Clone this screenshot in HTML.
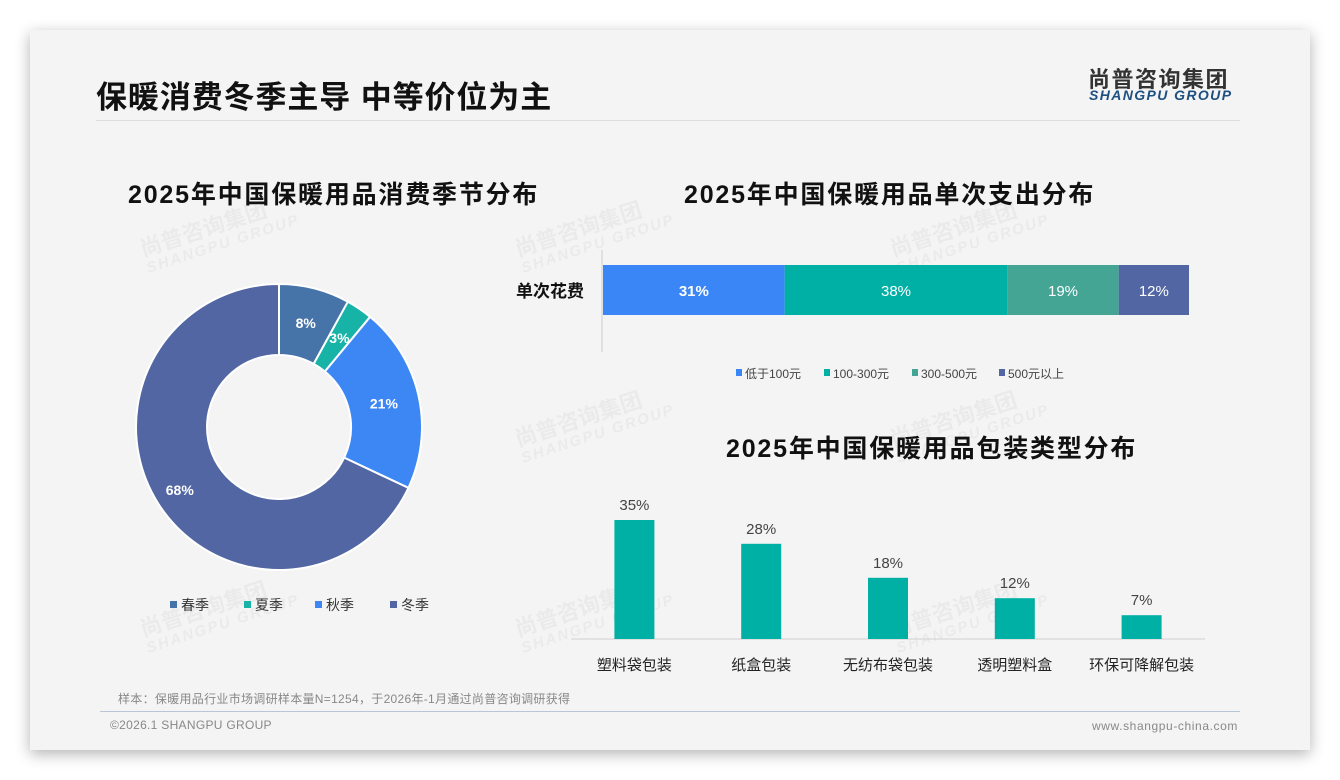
<!DOCTYPE html>
<html><head><meta charset="utf-8">
<style>
body{margin:0;width:1340px;height:780px;background:#fff;font-family:"Liberation Sans","Noto Sans CJK SC",sans-serif;position:relative;overflow:hidden}
.card{position:absolute;left:30px;top:30px;width:1280px;height:720px;background:#f4f4f4;box-shadow:0 4px 14px rgba(0,0,0,.3)}
.abs{position:absolute;white-space:nowrap}
.wm{position:absolute;color:rgba(0,0,0,0.04);font-weight:bold;transform:rotate(-18deg);font-size:22px;line-height:20px;white-space:nowrap}
.wm small{display:block;font-size:15px;font-style:italic;letter-spacing:2px}
</style></head><body>
<div class="card"></div>
<div class="abs" style="left:96px;top:72px;font-size:31px;font-weight:bold;color:#111;letter-spacing:0.9px">保暖消费冬季主导 中等价位为主</div>
<div class="abs" style="left:96px;top:120px;width:1144px;height:1px;background:#ddd"></div>
<div class="abs" style="left:1088px;top:62px;font-size:22px;font-weight:bold;color:#333;letter-spacing:1.5px">尚普咨询集团</div>
<div class="abs" style="left:1089px;top:87px;font-size:14px;font-weight:bold;font-style:italic;color:#1d4f80;letter-spacing:1.4px">SHANGPU GROUP</div>

<div class="wm" style="left:140px;top:215px">尚普咨询集团<small>SHANGPU GROUP</small></div>
<div class="wm" style="left:515px;top:215px">尚普咨询集团<small>SHANGPU GROUP</small></div>
<div class="wm" style="left:890px;top:215px">尚普咨询集团<small>SHANGPU GROUP</small></div>
<div class="wm" style="left:515px;top:405px">尚普咨询集团<small>SHANGPU GROUP</small></div>
<div class="wm" style="left:890px;top:405px">尚普咨询集团<small>SHANGPU GROUP</small></div>
<div class="wm" style="left:140px;top:595px">尚普咨询集团<small>SHANGPU GROUP</small></div>
<div class="wm" style="left:515px;top:595px">尚普咨询集团<small>SHANGPU GROUP</small></div>
<div class="wm" style="left:890px;top:595px">尚普咨询集团<small>SHANGPU GROUP</small></div>

<div class="abs" style="left:128px;top:175px;font-size:25px;font-weight:bold;color:#111;letter-spacing:1.8px">2025年中国保暖用品消费季节分布</div>
<div class="abs" style="left:684px;top:175px;font-size:25px;font-weight:bold;color:#111;letter-spacing:1.8px">2025年中国保暖用品单次支出分布</div>
<div class="abs" style="left:726px;top:429px;font-size:25px;font-weight:bold;color:#111;letter-spacing:1.8px">2025年中国保暖用品包装类型分布</div>

<svg id="chart" width="1340" height="780" style="position:absolute;left:0;top:0"></svg>

<div class="abs" style="left:118px;top:690px;font-size:12px;color:#888;letter-spacing:0.3px">样本：保暖用品行业市场调研样本量N=1254，于2026年-1月通过尚普咨询调研获得</div>
<div class="abs" style="left:100px;top:711px;width:1140px;height:1px;background:#b8c6d6"></div>
<div class="abs" style="left:110px;top:718px;font-size:12px;color:#888;letter-spacing:0.3px">©2026.1 SHANGPU GROUP</div>
<div class="abs" style="left:1092px;top:719px;font-size:12px;color:#888;letter-spacing:0.6px">www.shangpu-china.com</div>

<script>
const seasons=["春季","夏季","秋季","冬季"];
const seasonVals=[8,3,21,68];
const seasonColors=["#4673a8","#17b3a6","#3d87f5","#5166a3"];
const spendCats=["低于100元","100-300元","300-500元","500元以上"];
const spendVals=[31,38,19,12];
const spendColors=["#3b86f7","#00b0a5","#44a595","#5166a3"];
const packCats=["塑料袋包装","纸盒包装","无纺布袋包装","透明塑料盒","环保可降解包装"];
const packVals=[35,28,18,12,7];

const svg=document.getElementById('chart');
const NS='http://www.w3.org/2000/svg';
function mk(tag,attrs,txt){const e=document.createElementNS(NS,tag);for(const k in attrs)e.setAttribute(k,attrs[k]);if(txt!==undefined)e.textContent=txt;svg.appendChild(e);return e;}
const F='"Liberation Sans","Noto Sans CJK SC",sans-serif';

// donut
const cx=279,cy=427,R=143,r=72;
const tot=seasonVals.reduce((a,b)=>a+b,0);
let a0=0;
seasonVals.forEach((v,i)=>{
  const a1=a0+v/tot*2*Math.PI;
  const p=(a,rad)=>[cx+rad*Math.sin(a),cy-rad*Math.cos(a)];
  const [x1,y1]=p(a0,R),[x2,y2]=p(a1,R),[x3,y3]=p(a1,r),[x4,y4]=p(a0,r);
  const lg=(a1-a0)>Math.PI?1:0;
  const s=mk('path',{d:`M${x1},${y1}A${R},${R} 0 ${lg} 1 ${x2},${y2}L${x3},${y3}A${r},${r} 0 ${lg} 0 ${x4},${y4}Z`,fill:seasonColors[i],stroke:'#fff','stroke-width':2});
  
  
  const am=(a0+a1)/2;const [lx,ly]=p(am,(R+r)/2+ (i===3?10:0));
  const t=mk('text',{x:lx,y:ly+5,'text-anchor':'middle','font-size':14,'font-weight':'bold',fill:'#fff','font-family':F},v+'%');
  
  
  a0=a1;
});
const legX=[170,244,315,390];
seasons.forEach((s,i)=>{
  const m=mk('rect',{x:legX[i],y:601,width:7,height:7,fill:seasonColors[i]});
  
  
  const t=mk('text',{x:legX[i]+11,y:610,'font-size':14,fill:'#333','font-family':F},s);
  
  
});

// stacked bar
const bx0=603,bw=586,by=265,bh=50;
const sx=v=>v/100*bw;
const ax=mk('line',{x1:602,y1:250,x2:602,y2:352,stroke:'#ccc'});


const yl=mk('text',{x:584,y:297,'text-anchor':'end','font-size':17,'font-weight':'bold',fill:'#111','font-family':F},'单次花费');


let acc=0;
spendVals.forEach((v,i)=>{
  const x=bx0+sx(acc),w=sx(v);
  const b=mk('rect',{x:x,y:by,width:w,height:bh,fill:spendColors[i]});
  
  
  const t=mk('text',{x:x+w/2,y:by+31,'text-anchor':'middle','font-size':15,'font-weight':i===0?'bold':'normal',fill:'#fff','font-family':F},v+'%');
  
  
  acc+=v;
});
const sLegX=[736,824,912,999];
spendCats.forEach((c,i)=>{
  const m=mk('rect',{x:sLegX[i],y:369,width:6,height:7,fill:spendColors[i]});
  
  
  const t=mk('text',{x:sLegX[i]+9,y:378,'font-size':12,fill:'#444','font-family':F},c);
  
  
});

// column chart
const base=639,cx0=571,cw=634,pxPer=3.4,colW=40;
const band=cw/packCats.length;
const xc=i=>cx0+band*(i+0.5);
const yv=v=>base-v*pxPer;
const bl=mk('line',{x1:cx0,y1:base,x2:cx0+cw,y2:base,stroke:'#d0d0d0'});


packVals.forEach((v,i)=>{
  const b=mk('rect',{x:xc(i)-colW/2,y:yv(v),width:colW,height:base-yv(v),fill:'#00b0a5'});
  
  
  const t=mk('text',{x:xc(i),y:yv(v)-10,'text-anchor':'middle','font-size':15,fill:'#444','font-family':F},v+'%');
  
  
  const c=mk('text',{x:xc(i),y:670,'text-anchor':'middle','font-size':15,fill:'#222','font-family':F},packCats[i]);
  
  
});
</script>
</body></html>
